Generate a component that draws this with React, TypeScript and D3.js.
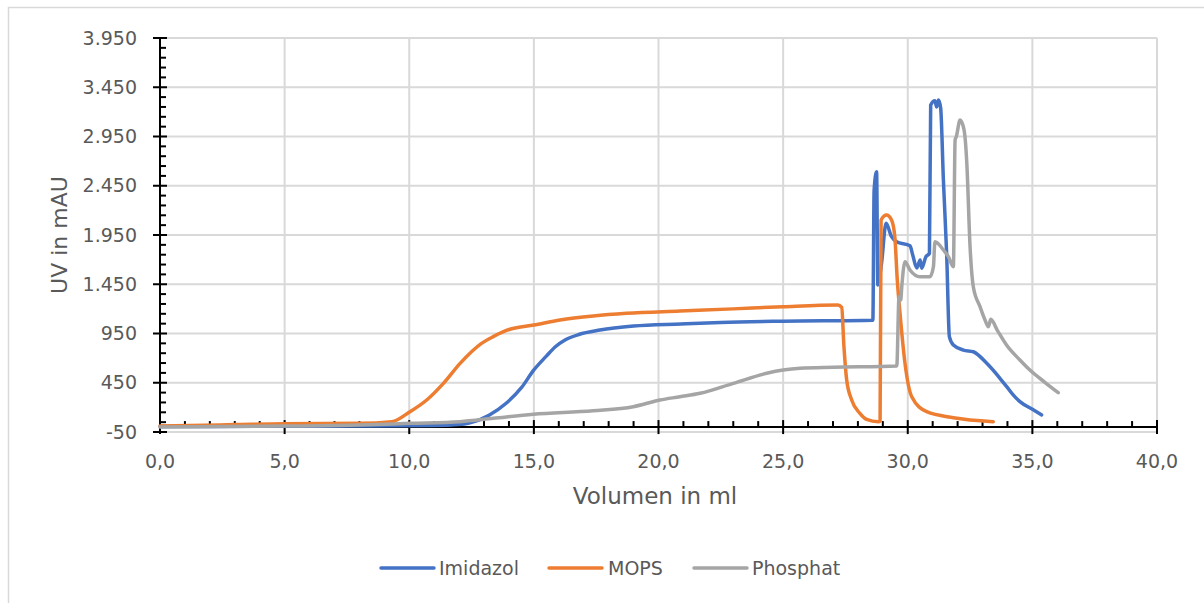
import * as d3 from 'd3';

// Imidazol (blue)
const imidazolX = [0, 4, 8, 11, 12, 12.4, 13.2, 13.9, 14.5, 15, 15.5, 15.85, 16.25, 16.8, 17.65, 19, 20.9, 22.5, 25, 28.6, 28.65, 28.75, 28.8, 28.95, 29.13, 29.35, 29.55, 30.09, 30.2, 30.36, 30.5, 30.56, 30.73, 30.87, 30.92, 31.09, 31.16, 31.23, 31.32, 31.43, 31.56, 31.67, 31.83, 32.23, 32.63, 33.17, 33.7, 33.97, 34.23, 34.5, 35.0, 35.37];
const imidazolY = [5, 8, 10, 15, 25, 40, 120, 244, 400, 580, 720, 813, 884, 940, 985, 1025, 1046, 1062, 1075, 1085, 2400, 2593, 1442, 1666, 2069, 1933, 1882, 1841, 1747, 1615, 1696, 1612, 1730, 1764, 3270, 3313, 3250, 3320, 3240, 2508, 1764, 918, 833, 782, 765, 647, 495, 410, 326, 258, 180, 123];

// MOPS (orange)
const mopsX = [0, 3, 5, 8, 9.3, 10.03, 10.7, 11.37, 12.04, 12.9, 13.37, 14.04, 15, 16.05, 17.38, 18.72, 20.86, 23, 25, 27.2, 27.35, 27.44, 27.55, 27.75, 28.08, 28.35, 28.82, 28.89, 28.93, 29.15, 29.35, 29.48, 29.58, 29.69, 29.89, 30.16, 30.76, 31.83, 33.43];
const mopsY = [10, 25, 35, 38, 55, 156, 275, 444, 647, 850, 918, 993, 1036, 1087, 1128, 1155, 1178, 1200, 1222, 1239, 1215, 816, 478, 275, 140, 79, 55, 60, 2102, 2153, 2102, 1933, 1493, 1155, 647, 308, 156, 95, 55];

// Phosphat (gray)
const phosphatX = [0, 5, 8, 10.03, 12.04, 13.37, 14.98, 17.38, 18.99, 20.06, 20.86, 21.67, 23.0, 24.34, 25.0, 25.68, 27.01, 29.56, 29.65, 29.72, 29.76, 29.89, 30.09, 30.49, 30.89, 31.03, 31.09, 31.43, 31.63, 31.83, 31.9, 31.95, 32.1, 32.26, 32.37, 32.5, 32.63, 32.9, 33.1, 33.24, 33.33, 33.6, 33.97, 34.5, 34.9, 35.5, 36.04];
const phosphatY = [0, 10, 21, 38, 55, 89, 130, 166, 207, 275, 308, 343, 444, 546, 579, 597, 607, 620, 1324, 1290, 1425, 1679, 1595, 1527, 1527, 1628, 1882, 1798, 1730, 1628, 2914, 2950, 3117, 3016, 2678, 1831, 1425, 1222, 1087, 1019, 1094, 980, 830, 681, 579, 455, 349];

const seriesNames = ['Imidazol', 'MOPS', 'Phosphat'];
const seriesColors = ['#4472C4', '#ED7D31', '#A5A5A5'];

const xTicks = [0, 5, 10, 15, 20, 25, 30, 35, 40];
const yTicks = [-50, 450, 950, 1450, 1950, 2450, 2950, 3450, 3950];

const de = d3.formatLocale({ decimal: ',', thousands: '.', grouping: [3], currency: ['', '€'], minus: '-' });
const fmtX = de.format('.1f');
const fmtY = de.format(',d');

const FONT = '"DejaVu Sans", sans-serif';
const TXT = '#595959';

export default function App() {
  const width = 1204;
  const height = 603;

  const x = d3.scaleLinear().domain([0, 40]).range([160, 1157]);
  const y = d3.scaleLinear().domain([-50, 3950]).range([432, 38]);

  const line = d3.line<[number, number]>()
    .x(d => x(d[0]))
    .y(d => y(d[1]))
    .curve(d3.curveMonotoneX);

  const series = [
    d3.zip(imidazolX, imidazolY) as [number, number][],
    d3.zip(mopsX, mopsY) as [number, number][],
    d3.zip(phosphatX, phosphatY) as [number, number][],
  ];

  const xMinor = d3.range(0, 41, 1).filter(v => v % 5 !== 0);
  const yMinor = d3.range(-50, 3951, 100).filter(v => (v + 50) % 500 !== 0);
  const axisY = y(0);

  const legendItems = [
    { lx: 381, tx: 439 },
    { lx: 549, tx: 608 },
    { lx: 694, tx: 752 },
  ];

  return (
    <svg width={width} height={height} style={{ position: 'absolute', left: 0, top: 0 }}>
      <rect x={0} y={0} width={width} height={height} fill="#fff" />
      <rect x={8.5} y={7.5} width={1200} height={600} fill="none" stroke="#d9d9d9" strokeWidth={1.5} />

      {/* gridlines */}
      {yTicks.map(v => (
        <line key={'gy' + v} x1={x(0)} x2={x(40)} y1={y(v)} y2={y(v)} stroke="#d9d9d9" strokeWidth={2} />
      ))}
      {xTicks.filter(v => v > 0).map(v => (
        <line key={'gx' + v} x1={x(v)} x2={x(v)} y1={y(-50)} y2={y(3950)} stroke="#d9d9d9" strokeWidth={2} />
      ))}

      {/* y axis */}
      <line x1={x(0)} x2={x(0)} y1={y(-50)} y2={y(3950)} stroke="#000" strokeWidth={2} />
      {yTicks.map(v => (
        <line key={'ty' + v} x1={x(0) - 7} x2={x(0) + 7} y1={y(v)} y2={y(v)} stroke="#000" strokeWidth={2} />
      ))}
      {yMinor.map(v => (
        <line key={'my' + v} x1={x(0)} x2={x(0) + 6} y1={y(v)} y2={y(v)} stroke="#000" strokeWidth={2} />
      ))}
      {yTicks.map(v => (
        <text key={'ly' + v} x={137} y={y(v)} dy="0.35em" textAnchor="end" fontFamily={FONT} fontSize={19} fill={TXT}>
          {fmtY(v)}
        </text>
      ))}

      {/* x axis */}
      <line x1={x(0)} x2={x(40)} y1={axisY} y2={axisY} stroke="#000" strokeWidth={2} />
      {xTicks.map(v => (
        <line key={'tx' + v} x1={x(v)} x2={x(v)} y1={axisY - 7} y2={axisY + 7} stroke="#000" strokeWidth={2} />
      ))}
      {xMinor.map(v => (
        <line key={'mx' + v} x1={x(v)} x2={x(v)} y1={axisY} y2={axisY - 6} stroke="#000" strokeWidth={2} />
      ))}
      {xTicks.map(v => (
        <text key={'lx' + v} x={x(v)} y={461} dy="0.35em" textAnchor="middle" fontFamily={FONT} fontSize={19} fill={TXT}>
          {fmtX(v)}
        </text>
      ))}

      {/* series */}
      {series.map((s, i) => (
        <path key={seriesNames[i]} d={line(s) || ''} fill="none" stroke={seriesColors[i]} strokeWidth={3.5} strokeLinejoin="round" strokeLinecap="round" />
      ))}

      {/* axis titles */}
      <text x={655} y={496} dy="0.35em" textAnchor="middle" fontFamily={FONT} fontSize={23} fill={TXT}>
        Volumen in ml
      </text>
      <text transform="translate(59,235) rotate(-90)" dy="0.35em" textAnchor="middle" fontFamily={FONT} fontSize={22} fill={TXT}>
        UV in mAU
      </text>

      {/* legend */}
      {legendItems.map((l, i) => (
        <g key={'lg' + i}>
          <line x1={l.lx} x2={l.lx + 53} y1={568} y2={568} stroke={seriesColors[i]} strokeWidth={3.5} strokeLinecap="round" />
          <text x={l.tx} y={568} dy="0.35em" fontFamily={FONT} fontSize={19} fill={TXT}>
            {seriesNames[i]}
          </text>
        </g>
      ))}
    </svg>
  );
}
